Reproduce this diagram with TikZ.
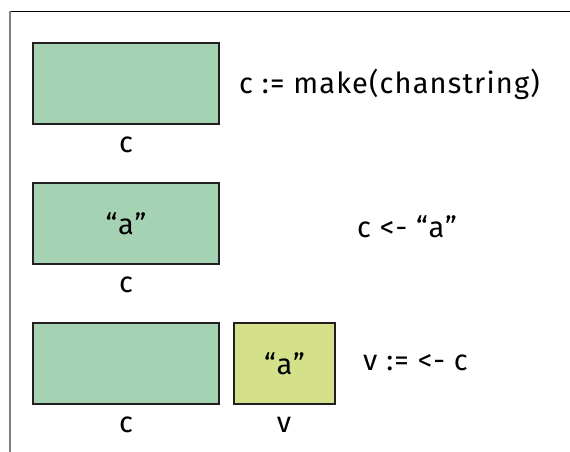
\documentclass[tikz,border=0pt]{standalone}
\usepackage{fontspec}
\setmainfont[LetterSpace=4]{Fira Sans}
\definecolor{boxgreen}{HTML}{A6D2B4}
\definecolor{boxyellow}{HTML}{D5E08A}
\definecolor{edge}{HTML}{231F20}
\definecolor{framegray}{HTML}{7F7F7F}
\begin{document}
\begin{tikzpicture}[x=1pt,y=-1pt,
  txt/.style={font=\fontsize{29}{33}\selectfont},
  cell/.style={txt,draw=edge,line width=2pt,fill=boxgreen,minimum width=186pt,minimum height=81pt,inner sep=0pt,anchor=north west},
  vcell/.style={cell,fill=boxyellow,minimum width=101pt},
  lbl/.style={txt,inner sep=0pt},
  stmt/.style={txt,inner sep=0pt,anchor=west}]
\useasboundingbox (0,0) rectangle (570,452);
\draw[line width=1.2pt,black] (10,11.5) -- (570,11.5);
\draw[line width=2pt,framegray] (10,11) -- (10,452);
% row 1
\node[cell] (c1) at (32,42) {};
\node[lbl] (l1) at (126,145) {c};
\node[stmt] (s1) at (239,84) {c := make(chanstring)};
% row 2
\node[cell] (c2) at (32,182) {“a”};
\node[lbl] (l2) at (126,285) {c};
\node[stmt] (s2) at (357,227) {c <- “a”};
% row 3
\node[cell] (c3) at (32,322) {};
\node[vcell] (v3) at (233,322) {“a”};
\node[lbl] (l3) at (126,425) {c};
\node[lbl] (l4) at (284,425) {v};
\node[stmt] (s3) at (363,363) {v := <- c};
\end{tikzpicture}
\end{document}
